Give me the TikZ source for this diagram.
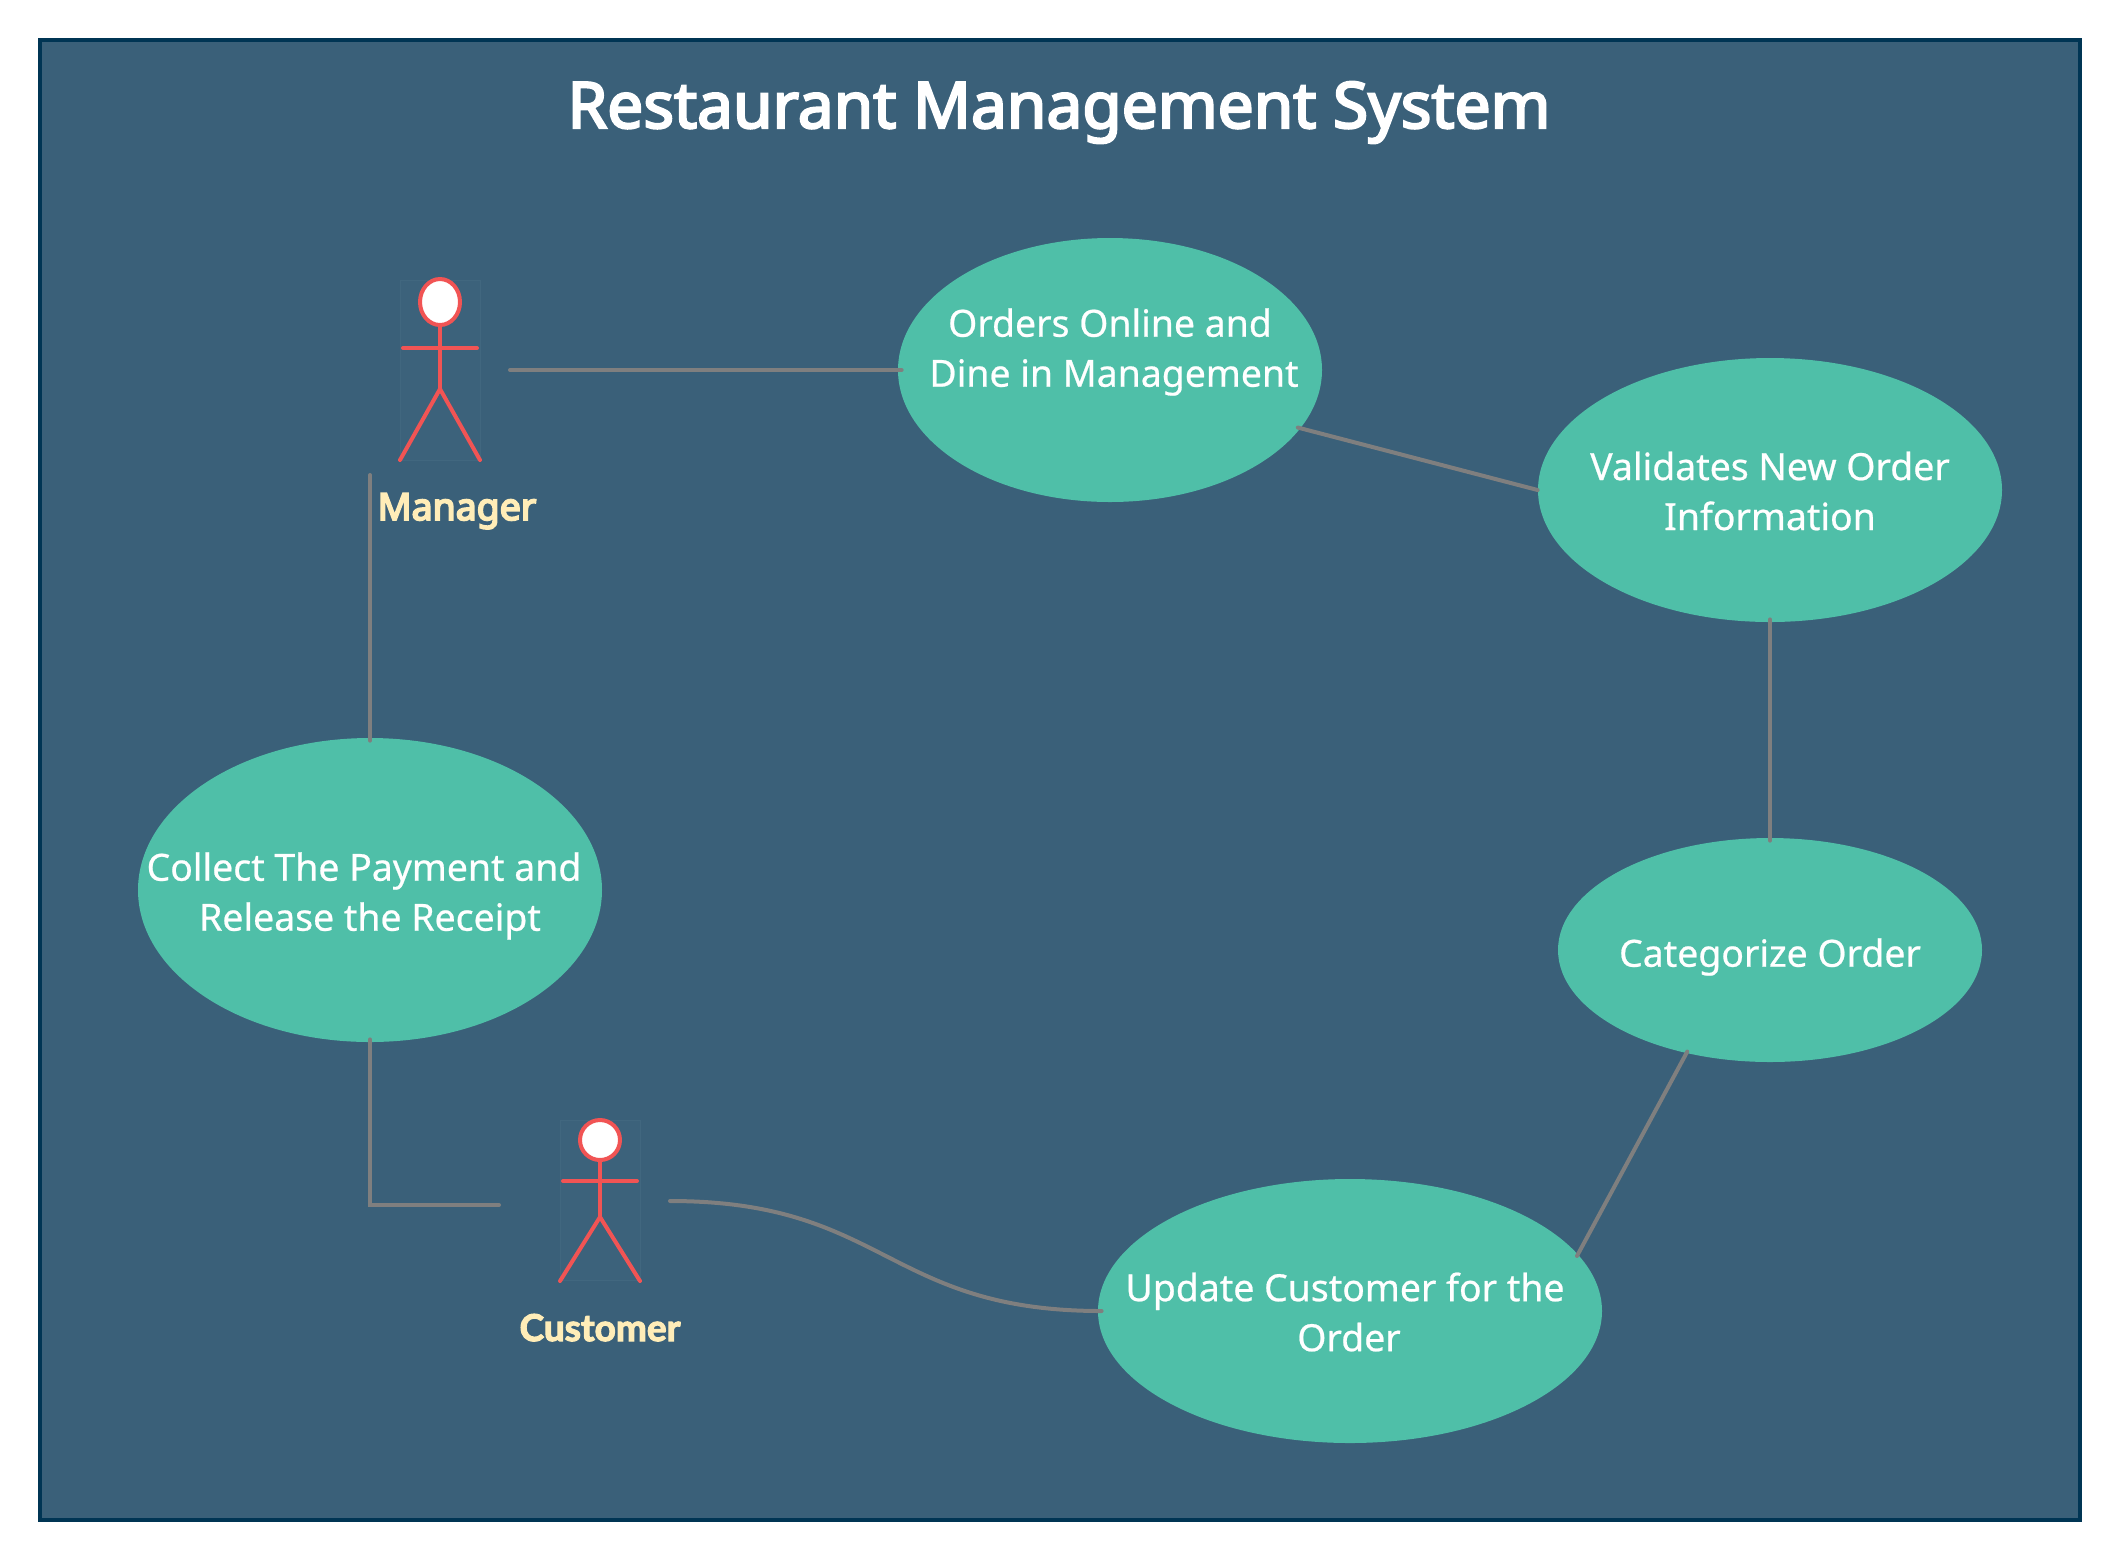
\documentclass[tikz,border=0pt]{standalone}
\usepackage{fontspec}
\usetikzlibrary{shapes.geometric}
\setmainfont{Noto Sans}
\newfontfamily\titlefont[FakeBold=3.5]{Noto Sans}
\newfontfamily\casefont[FakeBold=0.6]{Noto Sans}
\newfontfamily\mgrfont[FakeBold=5]{Noto Sans}
\newfontfamily\custfont[FakeBold=3]{Lato}
\definecolor{bgblue}{HTML}{3A6079}
\definecolor{frameblue}{HTML}{003554}
\definecolor{usecase}{HTML}{4FBFA8}
\definecolor{linkgray}{HTML}{7F7F7F}
\definecolor{actorred}{HTML}{F15454}
\definecolor{actorname}{HTML}{FFEDB8}
\definecolor{actorbox}{HTML}{41677F}
\tikzset{
  usecasenode/.style={ellipse,fill=usecase,draw=none,inner sep=0pt},
  casetext/.style={text=white,font=\casefont\fontsize{18.7}{25}\selectfont,align=center,inner sep=0pt},
  link/.style={draw=linkgray,line width=2pt,line cap=round},
  stick/.style={draw=actorred,line width=2pt,line cap=round},
  headshape/.style={ellipse,fill=white,draw=actorred,line width=2pt,inner sep=0pt},
  actorframe/.style={fill=actorbox,fill opacity=0.35,draw=actorbox,line width=0.5pt},
  actorlabel/.style={text=actorname,inner sep=0pt,anchor=base},
}
\begin{document}
\begin{tikzpicture}[x=0.5pt,y=-0.5pt]
\useasboundingbox (0,0) rectangle (2120,1560);
\node[draw=frameblue,fill=bgblue,line width=2pt,minimum width=1020pt,minimum height=740pt,inner sep=0pt] (frame) at (1060,780) {};
\node[text=white,inner sep=0pt,anchor=base,font=\titlefont\fontsize{32}{38}\selectfont] (title) at (1059,128) {Restaurant Management System};

\node[usecasenode,minimum width=212pt,minimum height=132pt] (orders) at (1110,370) {};
\node[usecasenode,minimum width=232pt,minimum height=132pt] (validates) at (1770,490) {};
\node[usecasenode,minimum width=212pt,minimum height=112pt] (categorize) at (1770,950) {};
\node[usecasenode,minimum width=252pt,minimum height=132pt] (update) at (1350,1311) {};
\node[usecasenode,minimum width=232pt,minimum height=152pt] (collect) at (370,890) {};

\node[casetext] (orderstext) at (1114,352) {Orders Online and\hspace*{4pt}\\Dine in Management};
\node[casetext] (validatestext) at (1770,491) {Validates New Order\\Information};
\node[casetext] (categorizetext) at (1770,957) {Categorize Order};
\node[casetext] (updatetext) at (1349,1312) {Update Customer for the\hspace*{4pt}\\Order};
\node[casetext] (collecttext) at (370,896) {Collect The Payment and\hspace*{6pt}\\Release the Receipt};

% Manager actor
\fill[actorframe] (400,280) rectangle (480,460);
\node[headshape,minimum width=20pt,minimum height=23pt] (mhead) at (440,302) {};
\coordinate (mhip) at (440,389);
\draw[stick] (mhead.south) -- (mhip);
\draw[stick] (403,348) -- (477,348);
\draw[stick] (400,460) -- (mhip) -- (480,460);
\node[actorlabel,font=\mgrfont\fontsize{18.7}{22}\selectfont] (manager) at (457,520) {Manager};

% Customer actor
\fill[actorframe] (560,1120) rectangle (640,1280);
\node[headshape,minimum width=20pt,minimum height=20pt] (chead) at (600,1140) {};
\coordinate (chip) at (600,1217);
\draw[stick] (chead.south) -- (chip);
\draw[stick] (563,1181) -- (637,1181);
\draw[stick] (560,1281) -- (chip) -- (640,1281);
\node[actorlabel,font=\custfont\bfseries\fontsize{18.5}{22}\selectfont] (customer) at (600,1341) {Customer};

% free ends beside the actors
\coordinate (mright) at (510,370);
\coordinate (mbelow) at (370,475);
\coordinate (cleft) at (499,1205);
\coordinate (cright) at (670,1201);

% connectors
\draw[link,shorten >=-2pt] (mright) -- (orders.west);
\draw[link,shorten <=-1.5pt] (orders.-17.2) -- (validates.west);
\draw[link,shorten <=-1.5pt,shorten >=-1.5pt] (validates.south) -- (categorize.north);
\draw[link,shorten <=-1pt,shorten >=-1pt] (categorize.231) -- (update.14);
\draw[link,shorten >=-2pt] (cright) .. controls (886,1201) and (886,1311) .. (update.west);
\draw[link,shorten <=-1.5pt] (collect.south -| mbelow) -- (370,1205) -- (cleft);
\draw[link,shorten <=-1.5pt] (collect.north -| mbelow) -- (mbelow);
\end{tikzpicture}
\end{document}
